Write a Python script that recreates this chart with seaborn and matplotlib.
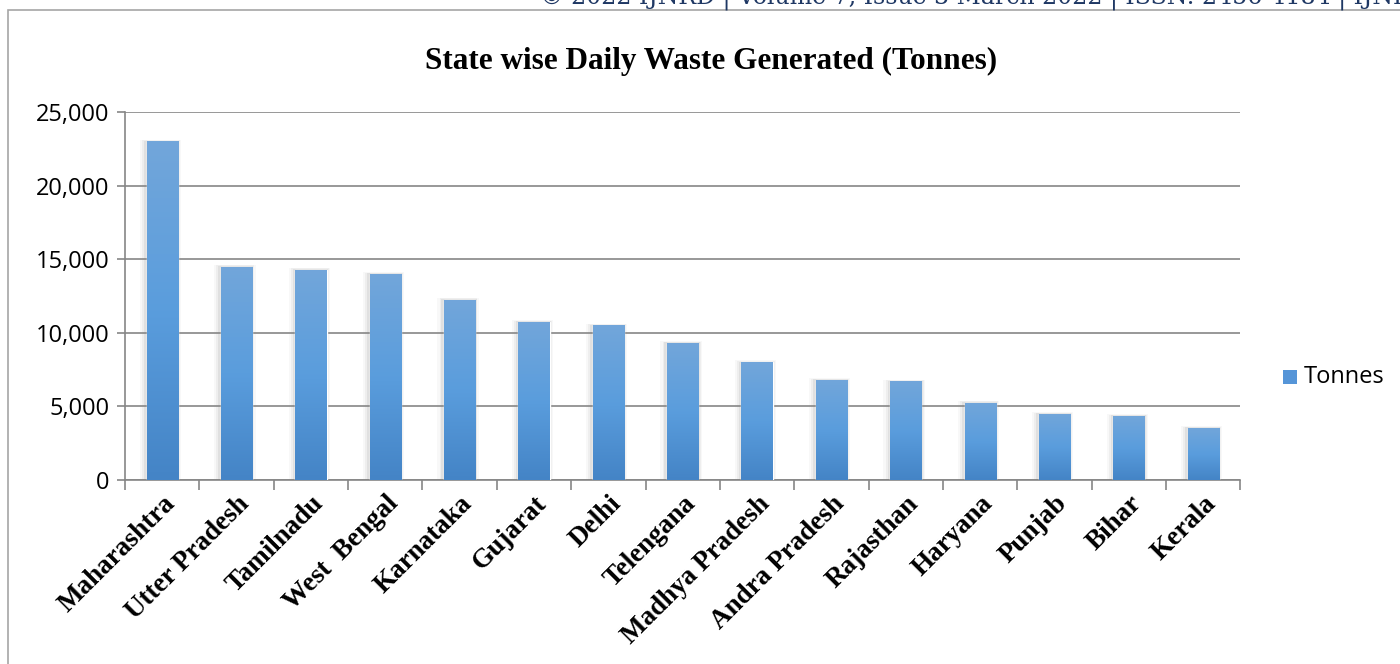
import matplotlib
matplotlib.use('Agg')
import matplotlib.pyplot as plt
import seaborn as sns
import numpy as np
import pandas as pd
from matplotlib.patches import Rectangle
from matplotlib.colors import LinearSegmentedColormap
from matplotlib.ticker import FuncFormatter, MultipleLocator

# data
states = ['Maharashtra', 'Utter Pradesh', 'Tamilnadu', 'West  Bengal', 'Karnataka',
          'Gujarat', 'Delhi', 'Telengana', 'Madhya Pradesh', 'Andra Pradesh',
          'Rajasthan', 'Haryana', 'Punjab', 'Bihar', 'Kerala']
tonnes = [23000, 14500, 14300, 14000, 12250, 10750, 10500, 9300, 8000, 6800,
          6700, 5250, 4500, 4350, 3550]

df = pd.DataFrame({'State': states, 'Tonnes': tonnes})

sns.set_style('white')
plt.rcParams['font.family'] = ['Open Sans', 'DejaVu Sans']
plt.rcParams['text.color'] = 'black'

fig = plt.figure(figsize=(14, 6.64), dpi=100)
ax = fig.add_axes([0.0893, 0.2771, 0.7967, 0.5542])

sns.barplot(data=df, x='State', y='Tonnes', color='#4F90D6', width=0.42, ax=ax,
            saturation=1, zorder=3)

# gradient fill + soft shadow on each bar
grad = LinearSegmentedColormap.from_list('g', ['#4484C6', '#5A9DDD', '#72A6DA'])
img = np.linspace(0, 1, 256).reshape(-1, 1)
for p in ax.patches:
    x0, w, h = p.get_x(), p.get_width(), p.get_height()
    for dx, a in [(0.09, 0.06), (0.06, 0.09), (0.035, 0.14)]:
        sh = Rectangle((x0 - dx, 0), w + dx * 1.5, h + 1400 * dx,
                       facecolor='#8c8c8c', edgecolor='none', alpha=a, zorder=2)
        ax.add_patch(sh)
    im = ax.imshow(img, cmap=grad, extent=[x0, x0 + w, 0, h], origin='lower',
                   aspect='auto', zorder=3.5)
    im.set_clip_path(p)

ax.set_xlim(-0.5, len(states) - 0.5)
ax.set_ylim(0, 25000)
ax.yaxis.set_major_locator(MultipleLocator(5000))
ax.yaxis.set_major_formatter(FuncFormatter(lambda v, _: f'{int(v):,}'))
ax.grid(axis='y', color='#868686', linewidth=1.2, zorder=0)
ax.set_axisbelow(True)

for s in ['top', 'right']:
    ax.spines[s].set_visible(False)
for s in ['left', 'bottom']:
    ax.spines[s].set_color('#868686')
    ax.spines[s].set_linewidth(1.2)

ax.tick_params(axis='y', length=6, color='#868686', width=1.2, labelsize=17,
               labelcolor='black', pad=5, left=True)
ax.set_xticks(np.arange(-0.5, len(states), 1), minor=True)
ax.tick_params(axis='x', which='minor', length=7, color='#868686', width=1.2,
               bottom=True)
ax.tick_params(axis='x', which='major', length=0, pad=8, labelcolor='black')
ax.set_xticklabels(states, rotation=45, ha='right', rotation_mode='anchor',
                   fontsize=19.5, fontweight='bold', family='Liberation Serif')
ax.set_xlabel('')
ax.set_ylabel('')

fig.text(0.508, 0.908, 'State wise Daily Waste Generated (Tonnes)', ha='center',
         va='center', fontsize=22.5, fontweight='bold', family='Liberation Serif',
         color='black')

# legend
fig.patches.append(Rectangle((1283 / 1400, 1 - 384 / 664), 14 / 1400, 14 / 664,
                             transform=fig.transFigure, facecolor='#5595D8',
                             edgecolor='none'))
fig.text(1304 / 1400, 1 - 377 / 664, 'Tonnes', ha='left', va='center', fontsize=17,
         color='black')

# chart frame and page header
fig.patches.append(Rectangle((8 / 1400, -0.01), 1.1, 1 - 10 / 664 + 0.01,
                             transform=fig.transFigure, facecolor='none',
                             edgecolor='#A6A6A6', linewidth=1.2))
fig.text(540 / 1400, 1 - 4 / 664,
         '© 2022 IJNRD | Volume 7, Issue 3 March 2022 | ISSN: 2456-4184 | IJNRD.ORG',
         ha='left', va='baseline', fontsize=17, color='#1F3864',
         family='DejaVu Serif')

fig.savefig('out.png', dpi=100)
